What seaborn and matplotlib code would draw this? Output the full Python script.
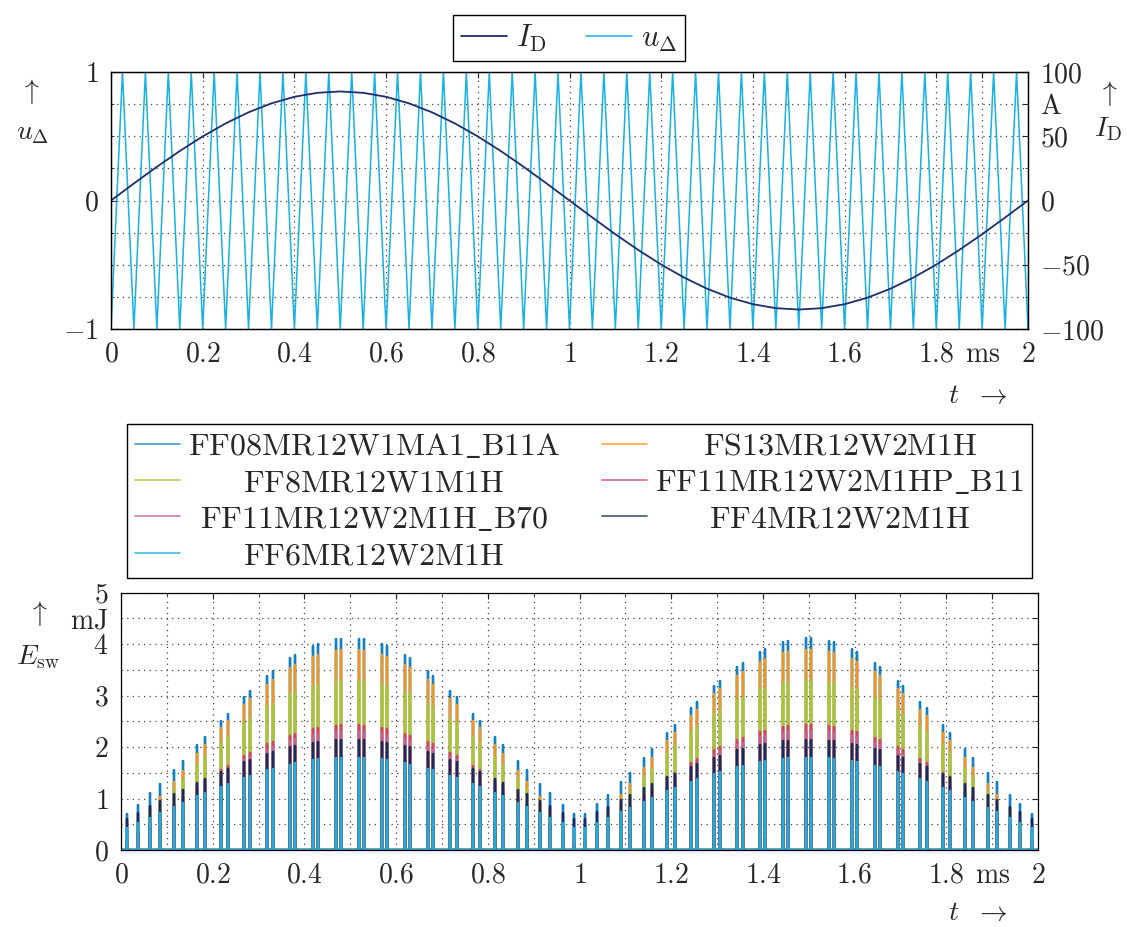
import matplotlib
matplotlib.use("Agg")
import matplotlib.pyplot as plt
from matplotlib.mathtext import MathTextParser
import pandas as pd
import seaborn as sns

# ---------------- data ----------------
carrier_t = [0.000, 0.025, 0.050, 0.075, 0.100, 0.125, 0.150, 0.175, 0.200, 0.225,
             0.250, 0.275, 0.300, 0.325, 0.350, 0.375, 0.400, 0.425, 0.450, 0.475,
             0.500, 0.525, 0.550, 0.575, 0.600, 0.625, 0.650, 0.675, 0.700, 0.725,
             0.750, 0.775, 0.800, 0.825, 0.850, 0.875, 0.900, 0.925, 0.950, 0.975,
             1.000, 1.025, 1.050, 1.075, 1.100, 1.125, 1.150, 1.175, 1.200, 1.225,
             1.250, 1.275, 1.300, 1.325, 1.350, 1.375, 1.400, 1.425, 1.450, 1.475,
             1.500, 1.525, 1.550, 1.575, 1.600, 1.625, 1.650, 1.675, 1.700, 1.725,
             1.750, 1.775, 1.800, 1.825, 1.850, 1.875, 1.900, 1.925, 1.950, 1.975,
             2.000]
carrier_u = [-1, 1, -1, 1, -1, 1, -1, 1, -1, 1, -1, 1, -1, 1, -1, 1, -1, 1, -1, 1,
             -1, 1, -1, 1, -1, 1, -1, 1, -1, 1, -1, 1, -1, 1, -1, 1, -1, 1, -1, 1,
             -1, 1, -1, 1, -1, 1, -1, 1, -1, 1, -1, 1, -1, 1, -1, 1, -1, 1, -1, 1,
             -1, 1, -1, 1, -1, 1, -1, 1, -1, 1, -1, 1, -1, 1, -1, 1, -1, 1, -1, 1,
             -1]

current_t = [0.00, 0.05, 0.10, 0.15, 0.20, 0.25, 0.30, 0.35, 0.40, 0.45,
             0.50, 0.55, 0.60, 0.65, 0.70, 0.75, 0.80, 0.85, 0.90, 0.95,
             1.00, 1.05, 1.10, 1.15, 1.20, 1.25, 1.30, 1.35, 1.40, 1.45,
             1.50, 1.55, 1.60, 1.65, 1.70, 1.75, 1.80, 1.85, 1.90, 1.95, 2.00]
current_i = [0.00, 13.27, 26.22, 38.52, 49.87, 60.00, 68.64, 75.60, 80.70, 83.80,
             84.85, 83.80, 80.70, 75.60, 68.64, 60.00, 49.87, 38.52, 26.22, 13.27,
             0.00, -13.27, -26.22, -38.52, -49.87, -60.00, -68.64, -75.60, -80.70, -83.80,
             -84.85, -83.80, -80.70, -75.60, -68.64, -60.00, -49.87, -38.52, -26.22, -13.27, 0.00]

switch_t = [0.0128, 0.0366, 0.0640, 0.0855, 0.1152, 0.1344, 0.1662, 0.1834, 0.2172, 0.2325,
            0.2681, 0.2817, 0.3188, 0.3310, 0.3694, 0.3805, 0.4198, 0.4302, 0.4700, 0.4800,
            0.5200, 0.5300, 0.5698, 0.5802, 0.6195, 0.6306, 0.6690, 0.6812, 0.7183, 0.7319,
            0.7675, 0.7828, 0.8166, 0.8338, 0.8656, 0.8848, 0.9145, 0.9360, 0.9634, 0.9872,
            1.0122, 1.0384, 1.0611, 1.0896, 1.1100, 1.1407, 1.1589, 1.1918, 1.2079, 1.2427,
            1.2571, 1.2935, 1.3063, 1.3441, 1.3558, 1.3946, 1.4053, 1.4449, 1.4551, 1.4950,
            1.5050, 1.5449, 1.5551, 1.5947, 1.6054, 1.6442, 1.6559, 1.6937, 1.7065, 1.7429,
            1.7573, 1.7921, 1.8083, 1.8411, 1.8593, 1.8900, 1.9104, 1.9389, 1.9616, 1.9878]

E_FF08MR12W1MA1_B11A = [
    0.70, 0.88, 1.10, 1.28, 1.55, 1.73, 2.03, 2.19, 2.51, 2.65, 2.97, 3.09, 3.38, 3.47, 3.72, 3.78, 3.96, 4.00, 4.09, 4.10,
    4.10, 4.09, 4.00, 3.96, 3.78, 3.72, 3.47, 3.38, 3.09, 2.97, 2.65, 2.51, 2.19, 2.03, 1.73, 1.55, 1.28, 1.10, 0.88, 0.70,
    0.70, 0.89, 1.07, 1.32, 1.50, 1.78, 1.96, 2.27, 2.42, 2.75, 2.87, 3.18, 3.29, 3.56, 3.64, 3.85, 3.90, 4.04, 4.06, 4.11,
    4.11, 4.06, 4.04, 3.90, 3.85, 3.64, 3.56, 3.29, 3.18, 2.87, 2.75, 2.42, 2.27, 1.96, 1.78, 1.50, 1.32, 1.07, 0.89, 0.70]
E_FS13MR12W2M1H = [
    0.28, 0.52, 0.80, 1.02, 1.33, 1.53, 1.86, 2.03, 2.36, 2.50, 2.82, 2.93, 3.21, 3.30, 3.53, 3.59, 3.75, 3.78, 3.87, 3.88,
    3.88, 3.87, 3.78, 3.75, 3.59, 3.53, 3.30, 3.21, 2.93, 2.82, 2.50, 2.36, 2.03, 1.86, 1.53, 1.33, 1.02, 0.80, 0.52, 0.28,
    0.27, 0.54, 0.77, 1.06, 1.28, 1.60, 1.78, 2.11, 2.27, 2.60, 2.72, 3.03, 3.12, 3.38, 3.45, 3.65, 3.70, 3.82, 3.84, 3.89,
    3.89, 3.84, 3.82, 3.70, 3.65, 3.45, 3.38, 3.12, 3.03, 2.72, 2.60, 2.27, 2.11, 1.78, 1.60, 1.28, 1.06, 0.77, 0.54, 0.27]
E_FF8MR12W1M1H = [
    0.12, 0.37, 0.65, 0.87, 1.17, 1.35, 1.65, 1.80, 2.08, 2.20, 2.46, 2.55, 2.77, 2.84, 3.02, 3.06, 3.18, 3.21, 3.27, 3.28,
    3.28, 3.27, 3.21, 3.18, 3.06, 3.02, 2.84, 2.77, 2.55, 2.46, 2.20, 2.08, 1.80, 1.65, 1.35, 1.17, 0.87, 0.65, 0.37, 0.12,
    0.11, 0.39, 0.62, 0.91, 1.12, 1.41, 1.58, 1.87, 2.01, 2.28, 2.38, 2.63, 2.70, 2.91, 2.96, 3.11, 3.14, 3.24, 3.25, 3.29,
    3.29, 3.25, 3.24, 3.14, 3.11, 2.96, 2.91, 2.70, 2.63, 2.38, 2.28, 2.01, 1.87, 1.58, 1.41, 1.12, 0.91, 0.62, 0.39, 0.11]
E_FF11MR12W2M1HP_B11 = [
    0.16, 0.34, 0.54, 0.69, 0.90, 1.03, 1.24, 1.35, 1.55, 1.64, 1.82, 1.89, 2.05, 2.10, 2.22, 2.26, 2.35, 2.36, 2.41, 2.42,
    2.42, 2.41, 2.36, 2.35, 2.26, 2.22, 2.10, 2.05, 1.89, 1.82, 1.64, 1.55, 1.35, 1.24, 1.03, 0.90, 0.69, 0.54, 0.34, 0.16,
    0.16, 0.35, 0.51, 0.72, 0.86, 1.07, 1.19, 1.40, 1.50, 1.69, 1.77, 1.94, 2.00, 2.14, 2.18, 2.29, 2.32, 2.38, 2.40, 2.42,
    2.42, 2.40, 2.38, 2.32, 2.29, 2.18, 2.14, 2.00, 1.94, 1.77, 1.69, 1.50, 1.40, 1.19, 1.07, 0.86, 0.72, 0.51, 0.35, 0.16]
E_FF11MR12W2M1H_B70 = [
    0.15, 0.32, 0.51, 0.66, 0.86, 0.98, 1.18, 1.29, 1.48, 1.56, 1.74, 1.80, 1.95, 2.00, 2.12, 2.15, 2.24, 2.25, 2.30, 2.30,
    2.30, 2.30, 2.25, 2.24, 2.15, 2.12, 2.00, 1.95, 1.80, 1.74, 1.56, 1.48, 1.29, 1.18, 0.98, 0.86, 0.66, 0.51, 0.32, 0.15,
    0.15, 0.33, 0.49, 0.68, 0.82, 1.02, 1.14, 1.33, 1.43, 1.61, 1.68, 1.85, 1.91, 2.04, 2.08, 2.19, 2.21, 2.27, 2.29, 2.31,
    2.31, 2.29, 2.27, 2.21, 2.19, 2.08, 2.04, 1.91, 1.85, 1.68, 1.61, 1.43, 1.33, 1.14, 1.02, 0.82, 0.68, 0.49, 0.33, 0.15]
E_FF4MR12W2M1H = [
    0.61, 0.72, 0.85, 0.95, 1.08, 1.17, 1.31, 1.38, 1.52, 1.58, 1.71, 1.75, 1.87, 1.90, 2.00, 2.02, 2.08, 2.10, 2.13, 2.13,
    2.13, 2.13, 2.10, 2.08, 2.02, 2.00, 1.90, 1.87, 1.75, 1.71, 1.58, 1.52, 1.38, 1.31, 1.17, 1.08, 0.95, 0.85, 0.72, 0.61,
    0.61, 0.73, 0.84, 0.97, 1.06, 1.20, 1.28, 1.42, 1.48, 1.62, 1.67, 1.79, 1.83, 1.94, 1.96, 2.04, 2.06, 2.11, 2.12, 2.14,
    2.14, 2.12, 2.11, 2.06, 2.04, 1.96, 1.94, 1.83, 1.79, 1.67, 1.62, 1.48, 1.42, 1.28, 1.20, 1.06, 0.97, 0.84, 0.73, 0.61]
E_FF6MR12W2M1H = [
    0.43, 0.52, 0.63, 0.72, 0.84, 0.92, 1.04, 1.11, 1.23, 1.28, 1.40, 1.44, 1.55, 1.58, 1.66, 1.69, 1.75, 1.76, 1.79, 1.79,
    1.79, 1.79, 1.76, 1.75, 1.69, 1.66, 1.58, 1.55, 1.44, 1.40, 1.28, 1.23, 1.11, 1.04, 0.92, 0.84, 0.72, 0.63, 0.52, 0.43,
    0.43, 0.53, 0.62, 0.74, 0.82, 0.94, 1.01, 1.14, 1.20, 1.32, 1.37, 1.48, 1.51, 1.61, 1.64, 1.71, 1.73, 1.77, 1.78, 1.79,
    1.79, 1.78, 1.77, 1.73, 1.71, 1.64, 1.61, 1.51, 1.48, 1.37, 1.32, 1.20, 1.14, 1.01, 0.94, 0.82, 0.74, 0.62, 0.53, 0.43]

module_names = ["FF08MR12W1MA1_B11A", "FS13MR12W2M1H", "FF8MR12W1M1H",
                "FF11MR12W2M1HP_B11", "FF11MR12W2M1H_B70", "FF4MR12W2M1H",
                "FF6MR12W2M1H"]
module_energies = [E_FF08MR12W1MA1_B11A, E_FS13MR12W2M1H, E_FF8MR12W1M1H,
                   E_FF11MR12W2M1HP_B11, E_FF11MR12W2M1H_B70, E_FF4MR12W2M1H,
                   E_FF6MR12W2M1H]
module_colors = ["#1480c2", "#f0961e", "#a9c62c", "#dc3c6e", "#c4609c",
                 "#1b2a5c", "#1aaee2"]

x_ticks = [0, 0.2, 0.4, 0.6, 0.8, 1.0, 1.2, 1.4, 1.6, 1.8, 1.9, 2.0]
x_tick_labels = ["$0$", "$0.2$", "$0.4$", "$0.6$", "$0.8$", "$1$", "$1.2$",
                 "$1.4$", "$1.6$", "$1.8$", r"$\mathrm{ms}$", "$2$"]
x_minor = [0.1, 0.3, 0.5, 0.7, 0.9, 1.1, 1.3, 1.5, 1.7]
u_ticks = [-1, 0, 1]
u_tick_labels = ["$-1$", "$0$", "$1$"]
u_minor = [-0.75, -0.5, -0.25, 0.25, 0.5, 0.75]
i_ticks = [-100, -50, 0, 50, 75, 100]
i_tick_labels = ["$-100$", "$-50$", "$0$", "$50$", r"$\mathrm{A}$", "$100$"]
i_minor = [-75, -25, 25]
e_ticks = [0, 1, 2, 3, 4, 4.5, 5]
e_tick_labels = ["$0$", "$1$", "$2$", "$3$", "$4$", r"$\mathrm{mJ}$", "$5$"]
e_minor = [0.5, 1.5, 2.5, 3.5]

# ---------------- style ----------------
sns.set_style("white")
plt.rcParams["mathtext.fontset"] = "cm"
plt.rcParams["font.family"] = ["cmr10", "DejaVu Serif"]
plt.rcParams["axes.formatter.use_mathtext"] = True
FS = 20
FS_LEG = 23

W, H = 1127, 927
fig = plt.figure(figsize=(W / 100, H / 100), dpi=100)
fig.patch.set_facecolor("white")

def fpos(x, y):
    return x / W, 1 - y / H

ax1 = fig.add_axes([111 / W, 1 - 329 / H, 917 / W, 257 / H])
ax1r = ax1.twinx()
ax2 = fig.add_axes([121 / W, 1 - 850 / H, 917 / W, 257.5 / H])

grid_kw = dict(color="#444444", linestyle=(0, (1, 3.5)), linewidth=0.9)

# ---------------- top panel ----------------
top_df = pd.DataFrame({"t": carrier_t, "u": carrier_u})
cur_df = pd.DataFrame({"t": current_t, "i": current_i})
sns.lineplot(data=top_df, x="t", y="u", ax=ax1, color="#17b1e5", lw=1.1,
             sort=False, estimator=None)
sns.lineplot(data=cur_df, x="t", y="i", ax=ax1r, color="#1d2d6e", lw=1.3,
             sort=False, estimator=None)
ax1.set_xlim(0, 2)
ax1.set_ylim(-1, 1)
ax1r.set_ylim(-100, 100)
ax1.set_xticks(x_ticks)
ax1.set_xticklabels(x_tick_labels)
ax1.set_yticks(u_ticks)
ax1.set_yticklabels(u_tick_labels)
ax1.set_yticks(u_minor, minor=True)
ax1r.set_yticks(i_ticks)
ax1r.set_yticklabels(i_tick_labels)
ax1r.set_yticks(i_minor, minor=True)
ax1.grid(True, axis="x", which="major", **grid_kw)
ax1.grid(True, axis="y", which="both", **grid_kw)
ax1r.grid(False)
for a in (ax1, ax1r):
    a.set_xlabel("")
    a.set_ylabel("")
ax1.tick_params(axis="both", which="both", direction="in", labelsize=FS)
ax1.tick_params(axis="x", which="major", top=True, length=4, pad=9)
ax1.tick_params(axis="y", which="major", length=4, pad=9, right=False)
ax1.tick_params(axis="y", which="minor", length=2.5)
ax1r.tick_params(axis="y", which="both", direction="in", labelsize=FS, pad=9)
ax1r.tick_params(axis="y", which="major", length=4)
ax1r.tick_params(axis="y", which="minor", length=2.5)

h_top = [ax1r.lines[0], ax1.lines[0]]
fig.legend(h_top, [r"$I_\mathrm{D}$", r"$u_\Delta$"], ncol=2, loc="upper center",
           bbox_to_anchor=fpos(569, 15), fontsize=22, frameon=True, fancybox=False,
           edgecolor="black", framealpha=1, handlelength=1.5, handletextpad=0.3,
           columnspacing=1.3, borderpad=0.25, borderaxespad=0)

# ---------------- bottom panel ----------------
rows = []
for name, vals in zip(module_names, module_energies):
    rows.append((name, 0.0, 0.0))
    for t, e in zip(switch_t, vals):
        rows.append((name, t, 0.0))
        rows.append((name, t, e))
        rows.append((name, t, 0.0))
    rows.append((name, 2.0, 0.0))
sw_df = pd.DataFrame(rows, columns=["module", "t", "E"])
sns.lineplot(data=sw_df, x="t", y="E", hue="module", hue_order=module_names,
             palette=module_colors, ax=ax2, lw=1.7, sort=False, estimator=None,
             legend=False)
ax2.set_xlim(0, 2)
ax2.set_ylim(0, 5)
ax2.set_xticks(x_ticks)
ax2.set_xticklabels(x_tick_labels)
ax2.set_xticks(x_minor, minor=True)
ax2.set_yticks(e_ticks)
ax2.set_yticklabels(e_tick_labels)
ax2.set_yticks(e_minor, minor=True)
ax2.grid(True, which="both", **grid_kw)
ax2.set_xlabel("")
ax2.set_ylabel("")
ax2.tick_params(axis="both", which="both", direction="in", labelsize=FS,
                top=True, right=True)
ax2.tick_params(axis="both", which="major", length=4, pad=9)
ax2.tick_params(axis="both", which="minor", length=2.5)

for a in (ax1, ax1r, ax2):
    for s in a.spines.values():
        s.set_color("black")
        s.set_linewidth(0.9)

# legend labels: Computer Modern via mathtext (cmr10 has no real underscore glyph)
def _mathtext_ok(s):
    try:
        MathTextParser("path").parse(s, dpi=72)
        return True
    except Exception:
        return False

test_label = r"$\mathrm{A\_B}$"
use_math = _mathtext_ok(test_label)
if use_math:
    disp_names = [r"$\mathrm{" + n.replace("_", r"\_") + "}$" for n in module_names]
else:
    disp_names = list(module_names)

order = [0, 2, 4, 6, 1, 3, 5]
handles = [ax2.lines[i] for i in order]
labels = [disp_names[i] for i in order]
x0, y0 = fpos(127, 578)
leg = fig.legend(handles, labels, ncol=2, loc="lower left", mode="expand",
                 bbox_to_anchor=(x0, y0, (1032 - 127) / W, (578 - 420) / H),
                 fontsize=FS_LEG, frameon=True, fancybox=False, edgecolor="black",
                 framealpha=1, handlelength=1.4, handletextpad=0.25,
                 labelspacing=0.25, borderpad=0.25, borderaxespad=0)
if not use_math:
    for t in leg.get_texts():
        t.set_fontfamily("DejaVu Serif")
for ln in leg.get_lines():
    ln.set_linewidth(1.3)
    ln.set_alpha(0.75)

# center legend texts in their columns (pgfplots style)
fig.canvas.draw()
rend = fig.canvas.get_renderer()
texts = leg.get_texts()
widths = [t.get_window_extent(rend).width for t in texts]
for col in ([0, 1, 2, 3], [4, 5, 6]):
    wmax = max(widths[i] for i in col)
    for i in col:
        texts[i].set_x((wmax - widths[i]) / 2)

# ---------------- axis labels ----------------
def ftext(x, y, s, **kw):
    fig.text(*fpos(x, y), s, fontsize=FS, ha="center", va="center", **kw)

ftext(30, 92, r"$\uparrow$")
ftext(33, 133, r"$u_\Delta$")
ftext(1108, 94, r"$\uparrow$")
ftext(1108, 129, r"$I_\mathrm{D}$")
ftext(978, 396, r"$t\ \ \rightarrow$")
ftext(38, 614, r"$\uparrow$")
ftext(38, 657, r"$E_\mathrm{sw}$")
ftext(978, 913, r"$t\ \ \rightarrow$")

fig.savefig("out.png", dpi=100, facecolor="white")
